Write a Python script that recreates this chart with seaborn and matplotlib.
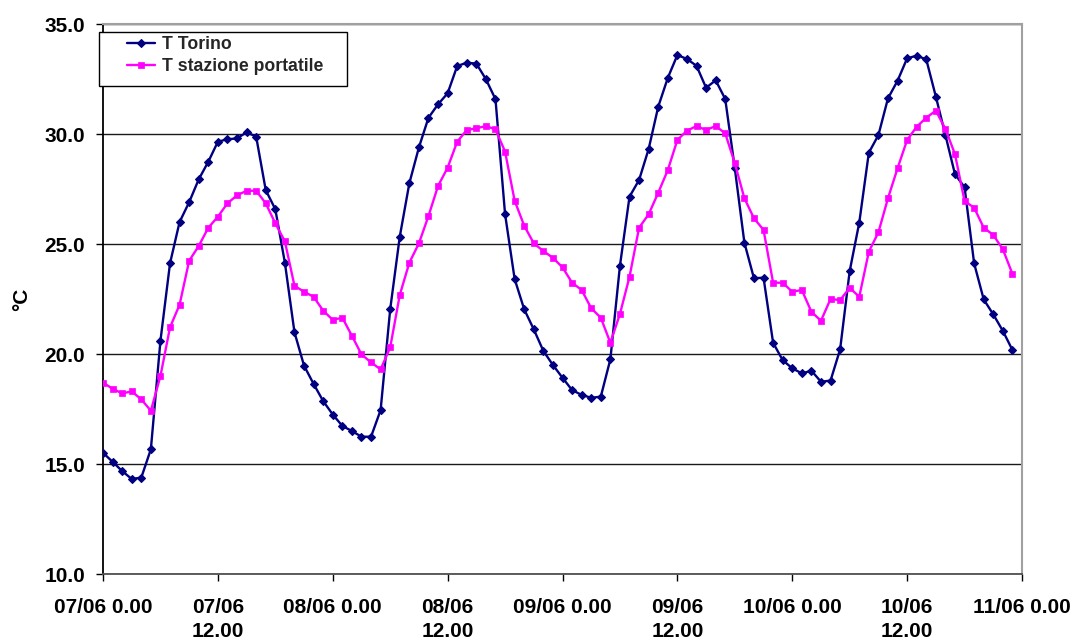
import numpy as np
import pandas as pd
import matplotlib
matplotlib.use("Agg")
import matplotlib.pyplot as plt
from matplotlib.patches import Rectangle
import seaborn as sns

# Hourly readings from 07/06 0.00 to 10/06 23.00
hours = list(range(96))

t_torino = [
    15.51, 15.10, 14.68, 14.32, 14.38, 15.67, 20.60, 24.12, 26.00, 26.90, 27.94, 28.74,
    29.65, 29.76, 29.80, 30.08, 29.88, 27.45, 26.58, 24.15, 20.99, 19.47, 18.64, 17.86,
    17.25, 16.73, 16.50, 16.24, 16.24, 17.45, 22.03, 25.33, 27.76, 29.39, 30.74, 31.35,
    31.85, 33.09, 33.24, 33.20, 32.49, 31.58, 26.36, 23.41, 22.03, 21.12, 20.14, 19.50,
    18.92, 18.36, 18.14, 18.01, 18.06, 19.76, 24.01, 27.15, 27.91, 29.32, 31.24, 32.55,
    33.59, 33.41, 33.10, 32.10, 32.44, 31.59, 28.44, 25.06, 23.44, 23.47, 20.51, 19.72,
    19.35, 19.12, 19.24, 18.74, 18.79, 20.21, 23.77, 25.97, 29.15, 29.95, 31.62, 32.42,
    33.44, 33.56, 33.39, 31.70, 29.95, 28.17, 27.58, 24.12, 22.48, 21.80, 21.05, 20.18,
]

t_portatile = [
    18.70, 18.42, 18.21, 18.30, 17.94, 17.42, 19.00, 21.21, 22.24, 24.24, 24.91, 25.74,
    26.24, 26.85, 27.21, 27.42, 27.42, 26.85, 25.94, 25.12, 23.10, 22.83, 22.60, 21.97,
    21.55, 21.65, 20.83, 19.98, 19.62, 19.30, 20.30, 22.68, 24.15, 25.03, 26.27, 27.64,
    28.47, 29.65, 30.18, 30.26, 30.36, 30.21, 29.20, 26.97, 25.83, 25.03, 24.68, 24.37,
    23.94, 23.24, 22.91, 22.08, 21.65, 20.51, 21.82, 23.51, 25.74, 26.35, 27.33, 28.36,
    29.73, 30.15, 30.36, 30.18, 30.36, 30.03, 28.67, 27.08, 26.17, 25.64, 23.24, 23.24,
    22.83, 22.91, 21.92, 21.51, 22.50, 22.45, 23.01, 22.60, 24.65, 25.53, 27.08, 28.44,
    29.73, 30.33, 30.74, 31.06, 30.23, 29.08, 26.95, 26.65, 25.74, 25.41, 24.76, 23.64,
]

tick_hours = [0, 12, 24, 36, 48, 60, 72, 84, 96]
tick_labels = ["07/06 0.00", "07/06\n12.00", "08/06 0.00", "08/06\n12.00",
               "09/06 0.00", "09/06\n12.00", "10/06 0.00", "10/06\n12.00", "11/06 0.00"]
y_ticks = [10, 15, 20, 25, 30, 35]

series_names = ["T Torino", "T stazione portatile"]

sns.set_theme(style="white")
plt.rcParams["font.family"] = ["Liberation Sans", "DejaVu Sans"]
plt.rcParams["font.weight"] = "bold"

W, H = 1077, 642
fig = plt.figure(figsize=(W / 100, H / 100), dpi=100)
fig.patch.set_facecolor("white")
ax = fig.add_axes([103 / W, 1 - 574 / H, (1022 - 103) / W, (574 - 24) / H])

df = pd.DataFrame({"ora": hours, series_names[0]: t_torino, series_names[1]: t_portatile})

sns.lineplot(data=df, x="ora", y=series_names[0], ax=ax, color="#000080",
             marker="D", markersize=4, markeredgecolor="#000080", markeredgewidth=0.8,
             linewidth=1.7, label=series_names[0], zorder=3)
sns.lineplot(data=df, x="ora", y=series_names[1], ax=ax, color="#FF00FF",
             marker="s", markersize=4.8, markeredgecolor="#FF00FF", markeredgewidth=0.5,
             linewidth=1.7, label=series_names[1], zorder=3)

ax.set_xlim(0, 96)
ax.set_ylim(10, 35)
ax.set_xticks(tick_hours)
ax.set_xticklabels(tick_labels, linespacing=1.35)
ax.set_yticks(y_ticks)
ax.set_yticklabels([f"{v:.1f}" for v in y_ticks])
ax.set_xlabel("")
ax.set_ylabel("°C", fontsize=15, fontweight="bold", color="black")
ax.yaxis.set_label_coords(-0.0785, 0.5)

ax.yaxis.grid(True, color="#1a1a1a", linewidth=1.0)
ax.xaxis.grid(False)
ax.set_axisbelow(True)

ax.tick_params(axis="both", which="major", direction="out", length=5, width=1,
               color="black", labelsize=15, labelcolor="black",
               bottom=True, left=True)
ax.tick_params(axis="x", pad=12)
ax.tick_params(axis="y", pad=8)
for lab in ax.get_xticklabels() + ax.get_yticklabels():
    lab.set_fontweight("bold")

ax.spines["left"].set_color("black")
ax.spines["left"].set_linewidth(1.3)
ax.spines["bottom"].set_color("#505050")
ax.spines["bottom"].set_linewidth(1.3)
for side in ("top", "right"):
    ax.spines[side].set_color("#a0a0a0")
    ax.spines[side].set_linewidth(1.5)

# Legend box with wide side margins
box = Rectangle((99 / W, 1 - 86 / H), (347 - 99) / W, (86 - 32) / H,
                transform=fig.transFigure, facecolor="white", edgecolor="black",
                linewidth=1.0, clip_on=False, zorder=4.5)
ax.add_patch(box)

fs = 12.7
handles, labels = ax.get_legend_handles_labels()
leg = ax.legend(handles, labels, loc="upper left",
                bbox_to_anchor=(127 / W, 1 - 36 / H), bbox_transform=fig.transFigure,
                frameon=False, borderpad=0, borderaxespad=0,
                prop={"size": fs, "weight": "bold"},
                handlelength=1.6, handletextpad=0.4, labelspacing=0.3)
leg.set_zorder(6)

fig.savefig("out.png", dpi=100, facecolor="white")
